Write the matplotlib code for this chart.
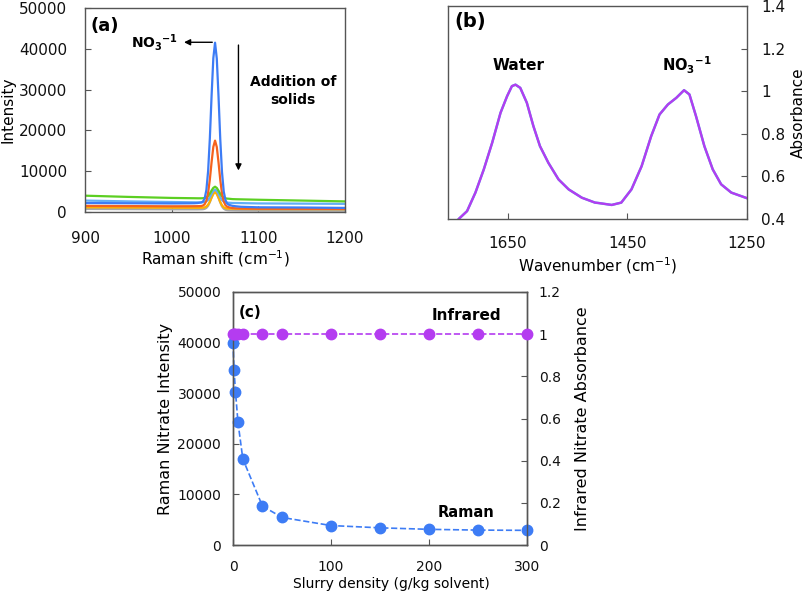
import matplotlib
matplotlib.use("Agg")
import matplotlib.pyplot as plt

plt.rcParams["font.family"] = ["DejaVu Sans"]
plt.rcParams["mathtext.fontset"] = "dejavusans"

# (a) Raman spectra at increasing slurry density
raman_shift = [900, 950, 1000, 1020, 1026, 1030, 1034, 1036, 1038, 1040, 1042, 1044, 1046, 1048,
               1050, 1052, 1054, 1056, 1058, 1060, 1062, 1064, 1066, 1070, 1074, 1080, 1100, 1150, 1200]
spec_blue = [2200, 2150, 2100, 2130, 2150, 2200, 2330, 2550, 3300, 5400, 10050, 18100, 28500, 37700,
             41500, 37600, 28350, 17900, 9800, 5050, 2910, 2050, 1760, 1510, 1400, 1280, 1150, 1100, 1000]
spec_orange = [1500, 1450, 1400, 1410, 1420, 1430, 1460, 1570, 1900, 2790, 4710, 7980, 12210, 15960,
               17500, 15930, 12140, 7870, 4560, 2600, 1680, 1300, 1150, 960, 900, 860, 800, 780, 750]
spec_green = [4000, 3700, 3450, 3390, 3375, 3360, 3360, 3380, 3440, 3590, 3930, 4520, 5280, 5920,
              6200, 5900, 5230, 4470, 3870, 3520, 3350, 3280, 3250, 3160, 3130, 3100, 3000, 2800, 2600]
spec_lightblue = [2800, 2600, 2450, 2390, 2375, 2365, 2365, 2385, 2440, 2600, 2970, 3620, 4450, 5200,
                  5500, 5190, 4430, 3590, 2930, 2550, 2370, 2290, 2265, 2210, 2200, 2180, 2100, 2050, 2000]
spec_yellow = [1150, 1100, 1050, 1040, 1030, 1030, 1040, 1060, 1140, 1350, 1800, 2560, 3560, 4440,
               4800, 4420, 3510, 2460, 1640, 1160, 940, 860, 830, 810, 790, 760, 730, 710, 700]
spec_gray = [750, 700, 650, 640, 640, 640, 660, 680, 770, 1010, 1510, 2400, 3530, 4540,
             4950, 4520, 3480, 2310, 1370, 820, 550, 450, 420, 400, 380, 360, 330, 310, 300]

# (b) IR absorbance spectrum
wavenumber = [1750, 1732, 1718, 1704, 1690, 1676, 1662, 1651, 1643, 1637, 1629, 1618, 1607,
              1596, 1582, 1565, 1548, 1526, 1504, 1498, 1476, 1460, 1443, 1426, 1410, 1396,
              1382, 1368, 1355, 1346, 1335, 1321, 1307, 1293, 1276, 1260, 1248]
absorbance = [0.33, 0.40, 0.437, 0.524, 0.633, 0.758, 0.899, 0.977, 1.024, 1.031, 1.016, 0.946, 0.836,
              0.742, 0.664, 0.586, 0.539, 0.50, 0.477, 0.475, 0.466, 0.477, 0.539, 0.648, 0.789, 0.891,
              0.938, 0.969, 1.005, 0.985, 0.883, 0.742, 0.633, 0.563, 0.524, 0.508, 0.496]

# (c) nitrate signal vs slurry density
slurry = [0, 1, 2.5, 5, 10, 30, 50, 100, 150, 200, 250, 300]
raman_int = [40000, 34600, 30300, 24300, 17000, 7700, 5450, 3850, 3400, 3100, 2950, 2900]
ir_abs = [1.0, 1.0, 1.0, 1.0, 1.0, 1.0, 1.0, 1.0, 1.0, 1.0, 1.0, 1.0]

BLUE = "#3d7cf5"
PURPLE = "#b43cf0"
SPINE = "#555555"


def style(ax, fs, xpad, ypad):
    for s in ax.spines.values():
        s.set_color(SPINE)
        s.set_linewidth(1.0)
    ax.tick_params(direction="in", length=4, color=SPINE, labelsize=fs, labelcolor="#111111")
    ax.tick_params(axis="x", pad=xpad)
    ax.tick_params(axis="y", pad=ypad)


fig = plt.figure(figsize=(8.1, 5.93), dpi=100)

# ---- panel (a)
ax1 = fig.add_axes([0.105, 0.6425, 0.321, 0.344])
for y, c in [(spec_gray, "#a8a8a8"), (spec_yellow, "#ffb000"), (spec_lightblue, "#62aef5"),
             (spec_green, "#5ccf22"), (spec_orange, "#f5621e"), (spec_blue, BLUE)]:
    ax1.plot(raman_shift, y, color=c, lw=1.6)
ax1.set_xlim(900, 1200)
ax1.set_ylim(0, 50000)
ax1.set_xticks([900, 1000, 1100, 1200])
ax1.set_yticks([0, 10000, 20000, 30000, 40000, 50000])
style(ax1, 11, 13.5, 13)
ax1.set_xlabel("Raman shift (cm$^{-1}$)", fontsize=11, labelpad=2)
ax1.set_ylabel("Intensity", fontsize=11, labelpad=2)
ax1.text(0.02, 0.955, "(a)", transform=ax1.transAxes, fontsize=13, fontweight="bold", va="top")
ax1.annotate("", xy=(1011, 41600), xytext=(1050, 41600),
             arrowprops=dict(arrowstyle="-|>", color="black", lw=1.0, mutation_scale=9))
ax1.text(1007, 41600, r"NO$_\mathbf{3}$$^\mathbf{-1}$", fontsize=10, fontweight="bold",
         ha="right", va="center")
ax1.annotate("", xy=(1077, 9500), xytext=(1077, 41600),
             arrowprops=dict(arrowstyle="-|>", color="black", lw=1.0, mutation_scale=9))
ax1.text(1140, 29600, "Addition of\nsolids", fontsize=10, fontweight="bold",
         ha="center", va="center", linespacing=1.4)

# ---- panel (b)
ax2 = fig.add_axes([0.553, 0.6307, 0.369, 0.359])
ax2.plot(wavenumber, absorbance, color="#5aa0e8", lw=1.8)
ax2.plot(wavenumber, absorbance, color=PURPLE, lw=1.6)
ax2.set_xlim(1750, 1250)
ax2.set_ylim(0.4, 1.4)
ax2.set_xticks([1650, 1450, 1250])
ax2.set_yticks([0.4, 0.6, 0.8, 1.0, 1.2, 1.4])
ax2.set_yticklabels(["0.4", "0.6", "0.8", "1", "1.2", "1.4"])
ax2.yaxis.tick_right()
ax2.yaxis.set_label_position("right")
style(ax2, 11, 12, 10.5)
ax2.set_xlabel("Wavenumber (cm$^{-1}$)", fontsize=11, labelpad=3)
ax2.set_ylabel("Absorbance", fontsize=11, labelpad=4)
ax2.text(0.02, 0.97, "(b)", transform=ax2.transAxes, fontsize=14, fontweight="bold", va="top")
ax2.text(1632, 1.12, "Water", fontsize=11, fontweight="bold", ha="center", va="center")
ax2.text(1350, 1.12, r"NO$_\mathbf{3}$$^\mathbf{-1}$", fontsize=10.5, fontweight="bold",
         ha="center", va="center")

# ---- panel (c)
ax3 = fig.add_axes([0.2877, 0.0809, 0.3629, 0.4267])
ax3.plot(slurry, raman_int, color=BLUE, ls="--", lw=1.2, marker="o", ms=7.5,
         clip_on=False, zorder=3)
ax3.set_xlim(0, 300)
ax3.set_ylim(0, 50000)
ax3.set_xticks([0, 100, 200, 300])
ax3.set_yticks([0, 10000, 20000, 30000, 40000, 50000])
style(ax3, 10, 10.5, 8.5)
ax3.set_xlabel("Slurry density (g/kg solvent)", fontsize=10)
ax3.xaxis.set_label_coords(0.54, -0.125)
ax3.set_ylabel("Raman Nitrate Intensity", fontsize=11.5, labelpad=3)
ax3.text(0.02, 0.95, "(c)", transform=ax3.transAxes, fontsize=11, fontweight="bold", va="top")
ax3.text(238, 45400, "Infrared", fontsize=11, fontweight="bold", ha="center", va="center")
ax3.text(238, 6500, "Raman", fontsize=10.5, fontweight="bold", ha="center", va="center")

ax4 = ax3.twinx()
ax4.plot(slurry, ir_abs, color=PURPLE, ls="--", lw=1.2, marker="o", ms=7.5,
         clip_on=False, zorder=3)
ax4.set_ylim(0, 1.2)
ax4.set_yticks([0, 0.2, 0.4, 0.6, 0.8, 1.0, 1.2])
ax4.set_yticklabels(["0", "0.2", "0.4", "0.6", "0.8", "1", "1.2"])
style(ax4, 10, 10.5, 8.5)
ax4.set_ylabel("Infrared Nitrate Absorbance", fontsize=11.5, labelpad=10)

fig.savefig("out.png", dpi=100)
